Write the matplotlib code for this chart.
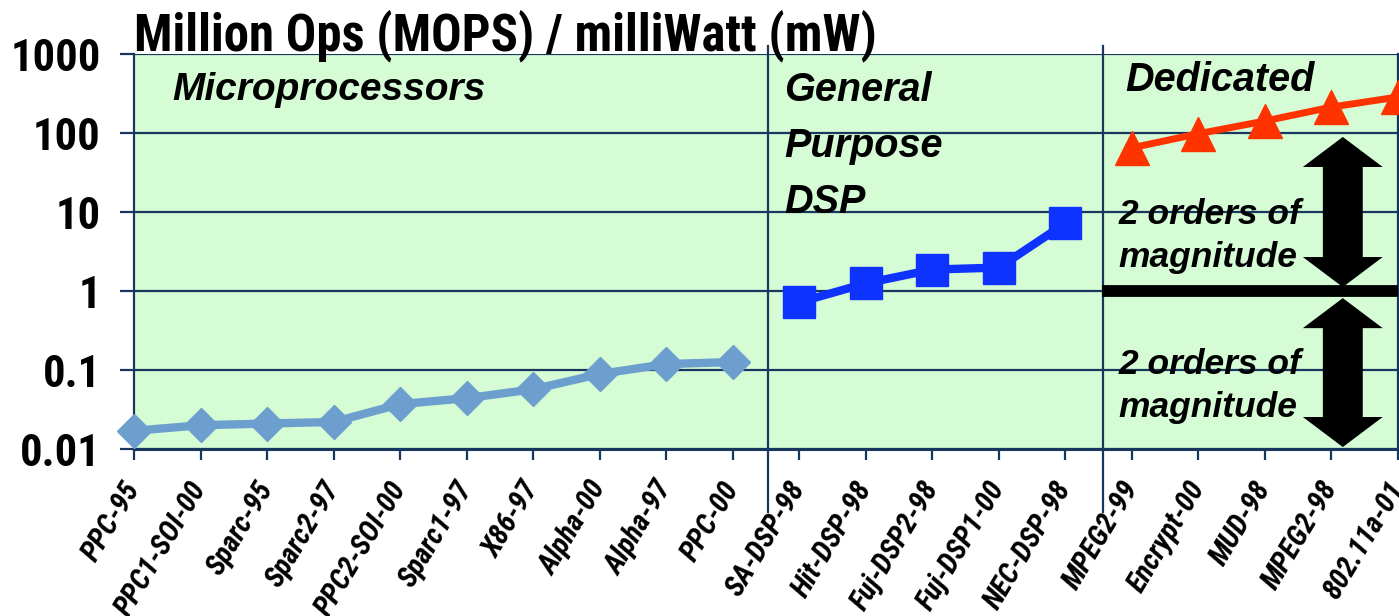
# coding: utf8
# MOPS/mW energy efficiency: microprocessors vs DSP vs dedicated hardware
import numpy as np;
import matplotlib.pyplot as plt;
from matplotlib import font_manager;
from matplotlib.patches import Polygon;
from matplotlib.transforms import blended_transform_factory;

# data
cpuNames = ['PPC-95', 'PPC1-SOI-00', 'Sparc-95', 'Sparc2-97', 'PPC2-SOI-00',
            'Sparc1-97', 'X86-97', 'Alpha-00', 'Alpha-97', 'PPC-00'];
cpuMops = [0.017, 0.020, 0.021, 0.022, 0.037, 0.044, 0.057, 0.089, 0.119, 0.126];

dspNames = ['SA-DSP-98', 'Hit-DSP-98', 'Fuj-DSP2-98', 'Fuj-DSP1-00', 'NEC-DSP-98'];
dspMops = [0.72, 1.25, 1.87, 1.98, 7.2];

dedNames = ['MPEG2-99', 'Encrypt-00', 'MUD-98', 'MPEG2-98', '802.11a-01'];
dedMops = [65, 98, 142, 213, 286];

yTicks = [0.01, 0.1, 1, 10, 100, 1000];
yTickLabels = ['0.01', '0.1', '1', '10', '100', '1000'];

allNames = cpuNames + dspNames + dedNames;
xCpu = np.arange(len(cpuNames));
xDsp = np.arange(len(dspNames)) + len(cpuNames);
xDed = np.arange(len(dedNames)) + len(cpuNames) + len(dspNames);

# pick a condensed bold font (Arial Narrow look-alike) that is installed
def pickFont(cands, style):
    have = set();
    for f in font_manager.fontManager.ttflist:
        if str(f.weight) in ('700', 'bold') and f.style == style:
            have.add(f.name);
    for c in cands:
        if c in have:
            return c;
    return 'Liberation Sans';

narrowCands = ['Liberation Sans Narrow', 'Arial Narrow', 'Archivo Narrow', 'Roboto Condensed',
               'PT Sans Narrow', 'Fira Sans Condensed', 'Open Sans Condensed', 'Sofia Sans Condensed'];
narrowUp = [pickFont(narrowCands, 'normal'), 'DejaVu Sans'];
narrowIt = [pickFont(narrowCands, 'italic'), 'DejaVu Sans'];
wide = ['Liberation Sans', 'DejaVu Sans'];

navy = '#17375E';

fig = plt.figure(figsize=(13.99, 6.16), dpi=100);
ax = fig.add_axes([0.0958, 0.2711, 0.9035, 0.6412]);
ax.set_facecolor('#D6FCD6');
ax.set_yscale('log');
ax.set_ylim(0.01, 1000);
ax.set_xlim(0, len(allNames) - 1);

# horizontal grid
for v in yTicks:
    ax.axhline(v, color=navy, linewidth=1.6, zorder=1);

# series
ax.plot(xCpu, cpuMops, color='#6C9FCE', linewidth=6, marker='D', markersize=17, zorder=4, clip_on=False);
ax.plot(xDsp, dspMops, color='#0F33FF', linewidth=6, marker='s', markersize=23, zorder=4, clip_on=False);
ax.plot(xDed, dedMops, color='#FF3300', linewidth=5, marker='^', markersize=25, zorder=4, clip_on=False);

# group dividers
tr = blended_transform_factory(ax.transData, ax.transAxes);
for xd in [9.53, 14.57]:
    ax.plot([xd, xd], [-0.16, 1.02], color=navy, linewidth=1.6, transform=tr, clip_on=False, zorder=2);

# thick reference line at 1 MOPS/mW
ax.plot([14.55, 19], [1, 1], color='black', linewidth=8.5, solid_capstyle='butt', zorder=3, clip_on=False);

# double arrows, in axes-fraction y
def doubleArrow(xc, yTop, yBot):
    hl = 0.076; sw = 0.30; hw = 0.60;
    pts = [(xc, yTop), (xc + hw, yTop - hl), (xc + sw, yTop - hl),
           (xc + sw, yBot + hl), (xc + hw, yBot + hl), (xc, yBot),
           (xc - hw, yBot + hl), (xc - sw, yBot + hl), (xc - sw, yTop - hl),
           (xc - hw, yTop - hl)];
    ax.add_patch(Polygon(pts, closed=True, facecolor='black', edgecolor='none', transform=tr, zorder=5));

doubleArrow(18.17, 0.790, 0.410);
doubleArrow(18.17, 0.382, 0.005);

# text labels
ax.text(0.57, 350, 'Microprocessors', fontsize=28, fontweight='bold', fontstyle='italic', family=wide, va='center', ha='left', zorder=6);
ax.text(9.77, 68, 'General\nPurpose\nDSP', fontsize=28.5, fontweight='bold', fontstyle='italic', family=wide, va='center', ha='left', linespacing=1.6, zorder=6);
ax.text(14.9, 470, 'Dedicated', fontsize=28.5, fontweight='bold', fontstyle='italic', family=wide, va='center', ha='left', zorder=6);
ax.text(14.8, 5.0, '2 orders of\nmagnitude', fontsize=25.5, fontweight='bold', fontstyle='italic', family=wide, va='center', ha='left', linespacing=1.4, zorder=6);
ax.text(14.8, 0.063, '2 orders of\nmagnitude', fontsize=25.5, fontweight='bold', fontstyle='italic', family=wide, va='center', ha='left', linespacing=1.4, zorder=6);

# title
ax.text(0, 1.008, 'Million Ops (MOPS) / milliWatt (mW)', transform=ax.transAxes, fontsize=36.5, fontweight='bold', family=narrowUp, ha='left', va='baseline');

# axes
ax.set_yticks(yTicks);
ax.set_yticklabels(yTickLabels, fontsize=32, fontweight='bold', family=narrowUp);
ax.yaxis.set_minor_locator(plt.NullLocator());
ax.set_xticks(np.arange(len(allNames)));
ax.set_xticklabels(allNames, rotation=59, ha='right', va='center', rotation_mode='anchor', fontsize=21, fontweight='bold', fontstyle='italic', family=narrowIt);
ax.tick_params(axis='y', length=10, width=1.6, color=navy, pad=14);
ax.tick_params(axis='x', length=8, width=1.6, color=navy, pad=17);
for s in ['left', 'bottom', 'right']:
    ax.spines[s].set_color(navy);
    ax.spines[s].set_linewidth(1.6);
ax.spines['bottom'].set_linewidth(2.2);
ax.spines['top'].set_visible(False);

plt.savefig('out.png', dpi=100);
